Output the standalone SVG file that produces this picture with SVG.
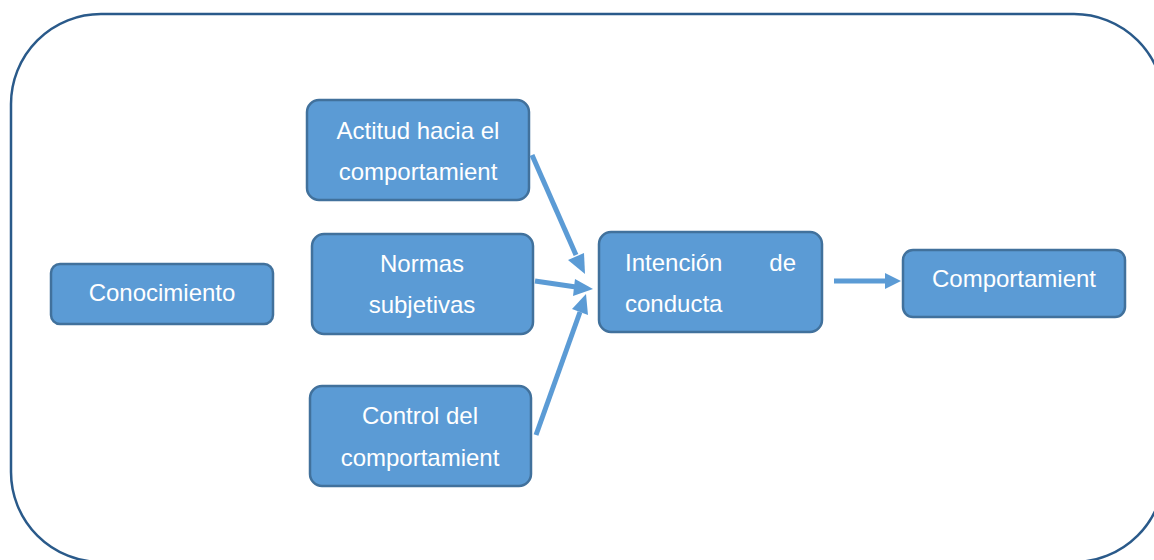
<svg xmlns="http://www.w3.org/2000/svg" width="1154" height="560" viewBox="0 0 1154 560">
<defs>
<style>
.box{fill:#5B9BD5;stroke:#41719C;stroke-width:2.5}
.t{font-family:"Liberation Sans",Arial,sans-serif;font-size:24px;fill:#FFFFFF}
.c{text-anchor:middle}
.arr{stroke:#5B9BD5;stroke-width:5;fill:none}
.head{fill:#5B9BD5}
</style>
</defs>
<rect x="11" y="14" width="1153" height="548" rx="90" ry="90" fill="#FFFFFF" stroke="#2A5A8A" stroke-width="2.5"/>
<g id="conocimiento">
<rect class="box" x="51" y="264" width="222" height="60" rx="9"/>
<text class="t c" x="162" y="301">Conocimiento</text>
</g>
<g id="actitud">
<rect class="box" x="307" y="100" width="222" height="100" rx="12"/>
<text class="t c" x="418" y="139">Actitud hacia el</text>
<text class="t c" x="418" y="180">comportamient</text>
</g>
<g id="normas">
<rect class="box" x="312" y="234" width="221" height="100" rx="12"/>
<text class="t c" x="422" y="272">Normas</text>
<text class="t c" x="422" y="313">subjetivas</text>
</g>
<g id="control">
<rect class="box" x="310" y="386" width="221" height="100" rx="12"/>
<text class="t c" x="420" y="424">Control del</text>
<text class="t c" x="420" y="466">comportamient</text>
</g>
<g id="intencion">
<rect class="box" x="599" y="232" width="223" height="100" rx="12"/>
<text class="t" x="625" y="271">Intención</text>
<text class="t" x="796" y="271" text-anchor="end">de</text>
<text class="t" x="625" y="312">conducta</text>
</g>
<g id="comportamiento">
<rect class="box" x="903" y="250" width="222" height="67" rx="10"/>
<text class="t c" x="1014" y="287">Comportamient</text>
</g>
<g id="connectors">
<line class="arr" x1="532" y1="155" x2="576" y2="255"/>
<polygon class="head" points="585,274 568,260 584,253"/>
<line class="arr" x1="535" y1="281" x2="576" y2="287"/>
<polygon class="head" points="593,289 575,279 573,296"/>
<line class="arr" x1="536" y1="435" x2="580" y2="312"/>
<polygon class="head" points="586,294 588,315 572,309"/>
<line class="arr" x1="834" y1="281" x2="886" y2="281"/>
<polygon class="head" points="901,281 885,273 885,289"/>
</g>
</svg>
